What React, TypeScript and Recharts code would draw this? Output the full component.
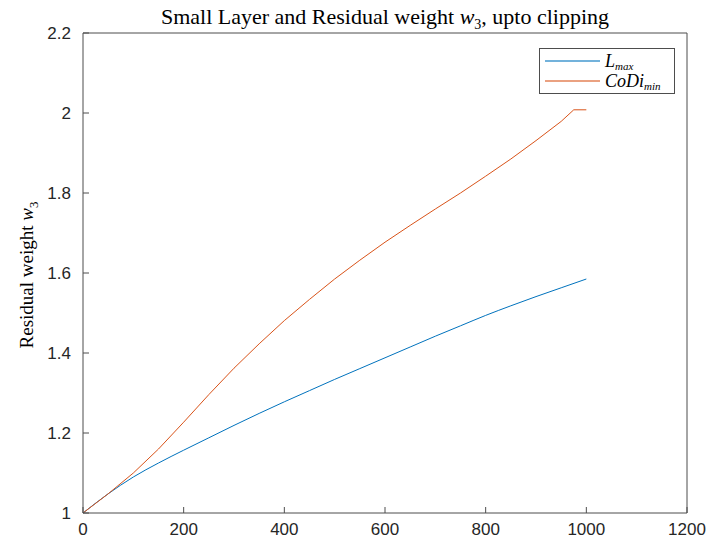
import { LineChart, Line, XAxis, YAxis, Legend } from "recharts"

const iterations = [0, 50, 100, 150, 200, 250, 300, 350, 400, 450, 500, 550, 600, 650, 700, 750, 800, 850, 900, 950, 1000]
const lmaxValues = [1.0, 1.048, 1.09, 1.125, 1.157, 1.188, 1.219, 1.249, 1.278, 1.306, 1.334, 1.361, 1.388, 1.415, 1.442, 1.468, 1.494, 1.518, 1.541, 1.563, 1.585]

const codiIterations = [0, 50, 100, 150, 200, 250, 300, 350, 400, 450, 500, 550, 600, 650, 700, 750, 800, 850, 900, 950, 975, 1000]
const codiValues = [1.0, 1.048, 1.1, 1.16, 1.227, 1.296, 1.362, 1.423, 1.481, 1.534, 1.585, 1.632, 1.677, 1.719, 1.76, 1.8, 1.842, 1.885, 1.931, 1.979, 2.008, 2.008]

const xTicks = [0, 200, 400, 600, 800, 1000, 1200]
const yTicks = [1, 1.2, 1.4, 1.6, 1.8, 2, 2.2]
const yTickLabels = ["1", "1.2", "1.4", "1.6", "1.8", "2", "2.2"]

const BLUE = "#0072BD"
const ORANGE = "#D95319"
const AXIS = "#4d4d4d"
const TEXT = "#262626"
const SERIF = "'Liberation Serif', 'DejaVu Serif', serif"
const SANS = "'Liberation Sans', Arial, sans-serif"

const lmaxData = iterations.map((x, i) => ({ x, y: lmaxValues[i] }))
const codiData = codiIterations.map((x, i) => ({ x, y: codiValues[i] }))

const tickStyle = { fill: TEXT, fontSize: 17, fontFamily: SANS }

// subscript without growing the line box
const Sub = ({ children, size, shift = "0.35em" }: { children: React.ReactNode; size: number; shift?: string }) => (
  <span style={{ fontSize: size, position: "relative", top: shift, lineHeight: 0 }}>{children}</span>
)

function MathLegend() {
  const row = (color: string, label: React.ReactNode) => (
    <div style={{ display: "flex", alignItems: "center", height: 20, lineHeight: "18px" }}>
      <div style={{ width: 55, height: 2, background: color, marginRight: 5, opacity: 0.55 }} />
      <span style={{ fontFamily: SERIF, fontStyle: "italic", fontSize: 18, lineHeight: "18px", color: "#000", whiteSpace: "nowrap" }}>{label}</span>
    </div>
  )
  return (
    <div
      style={{
        border: `1px solid ${AXIS}`,
        background: "#fff",
        padding: "2px 8px 2px 5px",
        width: 121,
        height: 40,
        boxSizing: "content-box",
      }}
    >
      {row(BLUE, <>L<Sub size={11} shift="0.25em">max</Sub></>)}
      {row(ORANGE, <>CoDi<Sub size={11} shift="0.25em">min</Sub></>)}
    </div>
  )
}

export default function App() {
  return (
    <div style={{ position: "fixed", left: 0, top: 0, width: 728, height: 547, background: "#fff" }}>
      <div
        style={{
          position: "absolute",
          left: 0,
          width: 770,
          top: 4,
          textAlign: "center",
          fontFamily: SERIF,
          fontSize: 22,
          lineHeight: "26px",
          color: "#000",
          whiteSpace: "nowrap",
        }}
      >
        Small Layer and Residual weight <i>w</i>
        <Sub size={14}>3</Sub>, upto clipping
      </div>
      <div
        style={{
          position: "absolute",
          left: 27,
          top: 275,
          transform: "translate(-50%, -50%) rotate(-90deg)",
          fontFamily: SERIF,
          fontSize: 19,
          lineHeight: "22px",
          color: "#000",
          whiteSpace: "nowrap",
        }}
      >
        Residual weight <i>w</i>
        <Sub size={13}>3</Sub>
      </div>
      <LineChart
        width={728}
        height={547}
        margin={{ top: 32, right: 40, bottom: 33, left: 82 }}
        style={{ position: "absolute", left: 0, top: 0 }}
      >
        <XAxis
          xAxisId="bottom"
          dataKey="x"
          type="number"
          domain={[0, 1200]}
          ticks={xTicks}
          height={1}
          tickSize={-6}
          tickMargin={16}
          stroke={AXIS}
          tick={tickStyle}
          allowDuplicatedCategory={false}
        />
        <XAxis
          xAxisId="top"
          orientation="top"
          dataKey="x"
          type="number"
          domain={[0, 1200]}
          ticks={xTicks}
          height={1}
          tickSize={-6}
          tick={false}
          stroke={AXIS}
          allowDuplicatedCategory={false}
        />
        <YAxis
          yAxisId="left"
          type="number"
          domain={[1, 2.2]}
          ticks={yTicks}
          width={1}
          tickSize={-6}
          tickMargin={18}
          stroke={AXIS}
          tick={tickStyle}
          tickFormatter={(v: number) => yTickLabels[yTicks.indexOf(v)] ?? String(v)}
        />
        <YAxis
          yAxisId="right"
          orientation="right"
          type="number"
          domain={[1, 2.2]}
          ticks={yTicks}
          width={1}
          tickSize={-6}
          tick={false}
          stroke={AXIS}
        />
        <Legend
          layout="vertical"
          align="center"
          verticalAlign="middle"
          wrapperStyle={{ left: 539, top: 48, width: "auto" }}
          content={() => <MathLegend />}
        />
        <Line
          xAxisId="bottom"
          yAxisId="left"
          type="monotone"
          data={lmaxData}
          dataKey="y"
          name="Lmax"
          stroke={BLUE}
          strokeWidth={1}
          dot={false}
          isAnimationActive={false}
        />
        <Line
          xAxisId="bottom"
          yAxisId="left"
          type="linear"
          data={codiData}
          dataKey="y"
          name="CoDimin"
          stroke={ORANGE}
          strokeWidth={1}
          dot={false}
          isAnimationActive={false}
        />
      </LineChart>
    </div>
  )
}
